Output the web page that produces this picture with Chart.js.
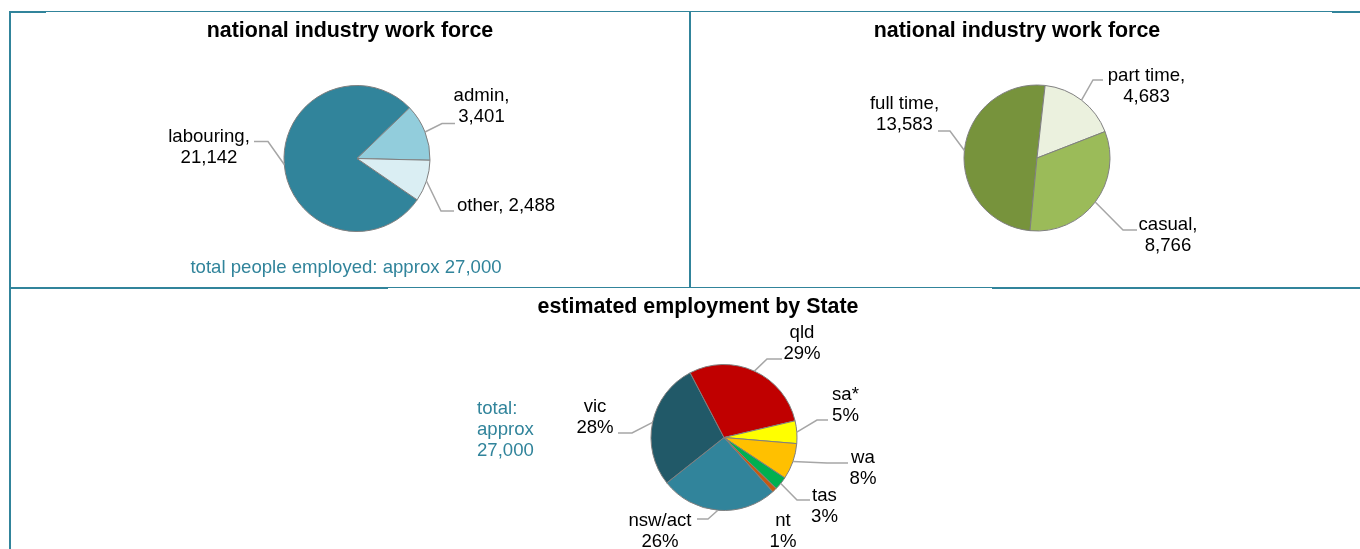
<!DOCTYPE html>
<html>
<head>
<meta charset="utf-8">
<script src="https://cdn.jsdelivr.net/npm/chart.js@4"></script>
<style>
  html, body { margin: 0; padding: 0; background: #ffffff; }
  #board { position: relative; width: 1360px; height: 549px; overflow: hidden; background: #ffffff; }
  #board canvas { position: absolute; }
  .rule { position: absolute; background: #31849B; }
</style>
</head>
<body>
<div id="board">
  <canvas id="roles" width="689" height="287" style="left:0;top:0"></canvas>
  <canvas id="types" width="671" height="287" style="left:689px;top:0"></canvas>
  <canvas id="states" width="1360" height="262" style="left:0;top:287px"></canvas>

  <!-- panel frame -->
  <div class="rule" style="left:9px;top:11px;width:1351px;height:1px"></div>
  <div class="rule" style="left:9px;top:11px;width:37px;height:2px"></div>
  <div class="rule" style="left:1332px;top:11px;width:28px;height:2px"></div>
  <div class="rule" style="left:9px;top:11px;width:2px;height:538px"></div>
  <div class="rule" style="left:689px;top:11px;width:2px;height:277px"></div>
  <div class="rule" style="left:9px;top:287px;width:1351px;height:1px"></div>
  <div class="rule" style="left:9px;top:287px;width:379px;height:2px"></div>
  <div class="rule" style="left:992px;top:287px;width:368px;height:2px"></div>
</div>

<script>
// ---- data ----
const roleNames = ['labouring', 'admin', 'other'];
const roleCounts = [21142, 3401, 2488];

const contractNames = ['full time', 'part time', 'casual'];
const contractCounts = [13583, 4683, 8766];

const stateNames = ['nsw/act', 'vic', 'qld', 'sa*', 'wa', 'tas', 'nt'];
const stateShares = [26, 28, 29, 5, 8, 3, 1];

const totalNote = 'total people employed: approx 27,000';
const stateTotalNote = ['total:', 'approx', '27,000'];

// ---- styling ----
const FONT = "'Liberation Sans', Arial, Helvetica, sans-serif";
const TITLE_FONT = 'bold 21.4px ' + FONT;
const LABEL_FONT = '18.6px ' + FONT;
const TEAL = '#31849B';
const roleColors = ['#31849B', '#92CDDC', '#DAEEF3'];
const contractColors = ['#77933C', '#EBF1DE', '#9BBB59'];
const stateColors = ['#31849B', '#215968', '#C00000', '#FFFF00', '#FFC000', '#00B050', '#C65911'];

Chart.defaults.font.family = FONT;

const countText = (name, value, inline) => {
  const num = value.toLocaleString('en-US');
  return inline ? [name + ', ' + num] : [name + ',', num];
};
const shareText = (name, value) => [name, value + '%'];

// Draws the chart title, side notes and each slice's callout with its leader line.
const calloutPlugin = {
  id: 'callouts',
  afterDatasetsDraw(chart, args, opts) {
    const ctx = chart.ctx;
    const meta = chart.getDatasetMeta(0);
    const values = chart.data.datasets[0].data;
    ctx.save();

    if (opts.title) {
      ctx.font = TITLE_FONT;
      ctx.fillStyle = '#000000';
      ctx.textAlign = 'center';
      ctx.textBaseline = 'alphabetic';
      ctx.fillText(opts.title.text, opts.title.x, opts.title.y);
    }

    (opts.notes || []).forEach(n => {
      ctx.font = LABEL_FONT;
      ctx.fillStyle = TEAL;
      ctx.textAlign = n.align || 'center';
      ctx.textBaseline = 'middle';
      n.lines.forEach((t, k) => ctx.fillText(t, n.x, n.y + k * 21));
    });

    meta.data.forEach((arc, i) => {
      const spot = opts.spots[i];
      if (!spot) return;
      const p = arc.getProps(['x', 'y', 'startAngle', 'endAngle', 'outerRadius'], true);
      const mid = (p.startAngle + p.endAngle) / 2;

      if (spot.leader) {
        const [sx, sy, kx] = spot.leader;
        ctx.beginPath();
        ctx.moveTo(p.x + sx, p.y + sy);
        ctx.lineTo(p.x + kx, p.y + sy);
        ctx.lineTo(p.x + Math.cos(mid) * p.outerRadius, p.y + Math.sin(mid) * p.outerRadius);
        ctx.strokeStyle = '#A6A6A6';
        ctx.lineWidth = 1.5;
        ctx.stroke();
      }

      const lines = opts.format(chart.data.labels[i], values[i], spot.inline);
      ctx.font = LABEL_FONT;
      ctx.fillStyle = '#000000';
      ctx.textAlign = 'center';
      ctx.textBaseline = 'middle';
      const lh = 21;
      const top = p.y + spot.dy - (lines.length - 1) * lh / 2;
      lines.forEach((t, k) => ctx.fillText(t, p.x + spot.dx, top + k * lh));
    });
    ctx.restore();
  }
};

function makePie(id, labels, values, colors, rotation, radius, padding, decor) {
  return new Chart(document.getElementById(id), {
    type: 'pie',
    data: {
      labels: labels,
      datasets: [{
        data: values,
        backgroundColor: colors,
        borderColor: '#7F7F7F',
        borderWidth: 1
      }]
    },
    options: {
      responsive: false,
      animation: false,
      events: [],
      rotation: rotation,
      radius: radius,
      layout: { padding: padding },
      plugins: {
        legend: { display: false },
        title: { display: false },
        tooltip: { enabled: false },
        callouts: decor
      }
    },
    plugins: [calloutPlugin]
  });
}

makePie('roles', roleNames, roleCounts, roleColors, 124.5, 73,
  { left: 25, right: 0, top: 30, bottom: 0 },
  {
    title: { text: 'national industry work force', x: 350, y: 37 },
    notes: [{ lines: [totalNote], x: 346, y: 268 }],
    format: countText,
    spots: [
      { dx: -148, dy: -11, leader: [-103, -17, -89] },
      { dx: 124.5, dy: -52, leader: [98, -35, 85] },
      { dx: 149, dy: 47.5, inline: true, leader: [97, 52.5, 84] }
    ]
  });

makePie('types', contractNames, contractCounts, contractColors, 185.5, 73,
  { left: 25, right: 0, top: 29, bottom: 0 },
  {
    title: { text: 'national industry work force', x: 328, y: 37 },
    format: countText,
    spots: [
      { dx: -132.5, dy: -43.5, leader: [-99, -27, -87] },
      { dx: 109.5, dy: -72, leader: [66, -78, 56] },
      { dx: 131, dy: 77, leader: [100, 72, 86] }
    ]
  });

makePie('states', stateNames, stateShares, stateColors, 138, 73,
  { left: 88, right: 0, top: 39, bottom: 0 },
  {
    title: { text: 'estimated employment by State', x: 698, y: 26 },
    notes: [{ lines: stateTotalNote, x: 477, y: 122, align: 'left' }],
    format: shareText,
    spots: [
      { dx: -64, dy: 94, leader: [-27, 81.5, -16] },
      { dx: -129, dy: -20.5, leader: [-106, -4.5, -92] },
      { dx: 78, dy: -94, leader: [58, -78.5, 43] },
      { dx: 121.5, dy: -32.5, leader: [104, -17.5, 93] },
      { dx: 139, dy: 30.5, leader: [124, 25.5, 103] },
      { dx: 100.5, dy: 69, leader: [86, 62.5, 73] },
      { dx: 59, dy: 93.5 }
    ]
  });
</script>
</body>
</html>
